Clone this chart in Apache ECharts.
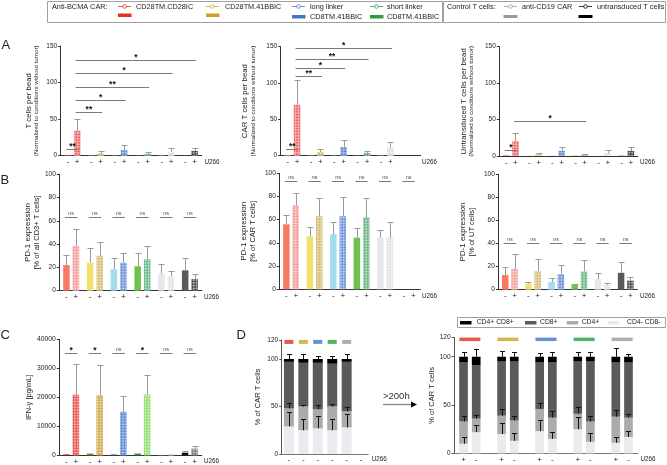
<!DOCTYPE html>
<html><head><meta charset="utf-8">
<script src="https://cdn.jsdelivr.net/npm/echarts@6/dist/echarts.min.js"></script>
<style>html,body{margin:0;padding:0;background:#fff}#c{width:667px;height:465px}</style>
</head><body><div id="c"></div>
<script>
// ================= DATA =================
const groupNames = ['CD28TM.CD28IC','CD28TM.41BBIC','long linker CD8TM.41BBIC','short linker CD8TM.41BBIC','anti-CD19 CAR','untransduced T cells'];
const pmLabels = ['-','+'];
const yTicksA = [0,50,100,150];
const yTicksB = [0,20,40,60,80,100];
const yTicksC = [0,10000,20000,30000,40000];
const yTicksD = [0,50,100];
const yMaxD = 120;

// A1: T cells per bead
const A1_minus = [0.8,0.4,0.4,0.4,0.4,0.4];
const A1_plus = [34,3,8,2.5,5.5,6.5];
const A1_plusErr = [50,6,14.5,4.5,10,10];
const A1_sig = [[0,'-',0,'+',9,'**'],[0,'+',1,'+',60,'**'],[0,'+',2,'+',76,'*'],[0,'+',3,'+',94,'**'],[0,'+',4,'+',113,'*'],[0,'+',5,'+',131,'*']];
// A2: CAR T cells per bead
const A2_minus = [1,0.4,0.4,0.4,0.4,null];
const A2_plus = [70,5,12,4,11,null];
const A2_plusErr = [104,9,21.5,6.5,18.5,null];
const A2_sig = [[0,'-',0,'+',9,'**'],[0,'+',1,'+',109,'**'],[0,'+',2,'+',120.5,'*'],[0,'+',3,'+',133.5,'**'],[0,'+',4,'+',148.5,'*']];
// A3: Untransduced T cells per bead
const A3_minus = [1,0.4,0.4,0.4,0.4,0.4];
const A3_plus = [20.5,2.5,7,2,4,7];
const A3_plusErr = [32,3.7,12,3,8,12];
const A3_sig = [[0,'-',0,'+',8,'*'],[0,'+',3,'+',47.5,'*']];
// B1: PD-1 % of all CD3+ T cells
const B1_minus = [22,24,18.5,21,15,17.5];
const B1_minusErr = [31,37,28,32,23,28];
const B1_plus = [38.5,30,24,27,12.5,10];
const B1_plusErr = [53,41.5,32.5,38.5,17,14];
const B1_sigY = 63;
// B2: PD-1 % of CAR T cells
const B2_minus = [56,45.5,47.5,44.5,44.5,null];
const B2_minusErr = [64,53.5,58,52.5,51,null];
const B2_plus = [72.5,63,63,62,44.5,null];
const B2_plusErr = [83,78.5,79.5,78.5,58,null];
const B2_sigY = 93.5;
// B3: PD-1 % of UT cells
const B3_minus = [12.7,5,6.7,4.6,9.2,14.6];
const B3_minusErr = [20,6.4,9.8,5.2,14.2,24.3];
const B3_plus = [18,16.2,13.3,15.7,4,7.8];
const B3_plusErr = [31,27,21,26,5.8,11.3];
const B3_sigY = 40.5;
// C: IFN-gamma pg/mL
const C_minus = [350,600,300,600,100,900];
const C_minusErr = [null,null,null,null,null,1500];
const C_plus = [20900,20700,15000,21000,500,2300];
const C_plusErr = [31400,31300,20600,27700,null,3200];
const C_sigText = ['*','*','ns','*','ns','ns'];
const C_sigY = 35200;
// D1: subsets before (U266 -)
const D1_labels = ['-','-','-','-','-','-'];
const D1_dn = [29,25,27,25,28,null];
const D1_cd4 = [19,25,20,25,17,null];
const D1_cd8 = [49,46,49,45,52,null];
const D1_dp = [3,4,4,5,3,null];
const D1_dnErr = [44,37,40,37,42,null];
const D1_cd4Err = [54,52,52,53,50,null];
const D1_dpErr = [105,105,103,103,105,null];
// D2: subsets after >200h
const D2_labels = ['+','-','+','-','+','-','+','-','+','-'];
const D2_dn = [10,22,20,13,23,15,25,12,11,17];
const D2_cd4 = [23,14,19,21,23,22,16,21,27,20];
const D2_cd8 = [61,55,56,61,48,57,54,62,56,57];
const D2_dp = [6,9,5,5,6,6,5,5,6,6];
const D2_dnErr = [17,29,31,21,35,22,38,21,17,23];
const D2_cd4Err = [39,40,46,39,52,44,48,39,45,41];
const D2_dpErr = [104.5,108,106,105,104,105,105,104.5,108.6,103];
const subsetNames = ['CD4+ CD8+','CD8+','CD4+','CD4- CD8-'];

// ================= STYLE =================
const FF = 'Liberation Sans';
const FONT = (s, b) => (b ? 'bold ' : '') + s + 'px "Liberation Sans", Arial, sans-serif';
const keyCol = ['#e0301e','#c9a227','#4275c8','#2b9e3b','#9a9a9a','#000000'];
const minusPal = ['#f87a65','#f2e26b','#a3dcee','#6fc34a','#e7e8eb','#595959'];
const minusPalC = ['#c0392b','#9a7b1c','#3b66b0','#2e9a3e','#bbbbbb','#111111'];
const plusPalA = ['#ee6a6a','#d6b55a','#5d8ad6','#58b36b','#dedfe2','#444444'];
const plusPalB = ['#f49c98','#d5bb72','#6b90da','#68b684','#e1e2e5','#484848'];
const plusPalC = ['#e9504c','#cfa845','#5a86d4','#8fdc6c','#dcdcdc','#777777'];
const subsetCol = ['#000000','#5a5a5a','#ababab','#e9ebee'];
const hatch = {symbol:'rect', symbolSize:1, color:'rgba(255,255,255,0.5)', dashArrayX:[[1.3,1.3],[0,1.3,1.3,0]], dashArrayY:[1.3,0], rotation:Math.PI/4};

const grids = [], xAxes = [], yAxes = [], series = [];
const slot5 = (g, s) => g*5 + (s === '+' ? 3 : 1);

function errSeries(gi, pts, color, cap) {
  return {type:'custom', xAxisIndex:gi, yAxisIndex:gi, z:4, silent:true, data:pts, encode:{x:0, y:[1,2]},
    renderItem:(p, api) => {
      const a = api.coord([api.value(0), api.value(1)]), b = api.coord([api.value(0), api.value(2)]);
      const x = Math.round(a[0]) + 0.5, yb = Math.round(b[1]) + 0.5;
      return {type:'group', children:[
        {type:'line', shape:{x1:x, y1:a[1], x2:x, y2:yb}, style:{stroke:color, lineWidth:1}},
        {type:'line', shape:{x1:x-cap, y1:yb, x2:x+cap, y2:yb}, style:{stroke:color, lineWidth:1}}]};
    }};
}
function sigSeries(gi, items) {
  return {type:'custom', xAxisIndex:gi, yAxisIndex:gi, z:5, silent:true,
    data: items.map(d => [d[0], d[1], d[2]]), encode:{x:[0,1], y:2},
    renderItem:(p, api) => {
      const t = items[p.dataIndex][3];
      const a = api.coord([api.value(0), api.value(2)]), b = api.coord([api.value(1), api.value(2)]);
      const y = Math.round(a[1]) + 0.5, ns = (t === 'ns');
      return {type:'group', children:[
        {type:'line', shape:{x1:a[0]-1.5, y1:y, x2:b[0]+1.5, y2:y}, style:{stroke:'#7a7a7a', lineWidth:1}},
        {type:'text', x:(a[0]+b[0])/2, y: y - (ns ? 4.5 : 2.5),
          style:{text:t, fill: ns ? '#555' : '#111', font: ns ? FONT(5.5) : FONT(8.5, true),
                 textAlign:'center', align:'center', textVerticalAlign:'middle', verticalAlign:'middle'}}]};
    }};
}
function yAxisCfg(gi, ticks, max, name, gap, rich, labelSize) {
  return {type:'value', gridIndex:gi, min:ticks[0], max: max, interval: ticks[1]-ticks[0],
    axisLine:{show:true, lineStyle:{color:'#333', width:1}}, axisTick:{show:true, length:2.5, lineStyle:{color:'#333'}},
    axisLabel:{fontSize:labelSize || 6.5, color:'#222', margin:3.5, fontFamily:FF, formatter:v => String(v)}, splitLine:{show:false},
    name:name, nameLocation:'middle', nameRotate:90, nameGap:gap,
    nameTextStyle:{color:'#222', fontFamily:FF, fontSize:7.5, rich:rich}};
}

function groupPanel(gi, box, o) {
  grids.push(Object.assign({outerBoundsMode:'none', containLabel:false}, box));
  const cats = Array(30).fill('');
  for (let g = 0; g < o.nLab; g++) { cats[slot5(g,'-')] = pmLabels[0]; cats[slot5(g,'+')] = pmLabels[1]; }
  xAxes.push({type:'category', gridIndex:gi, data:cats, axisLine:{lineStyle:{color:'#333', width:1}}, axisTick:{show:false},
    axisLabel:{interval:0, margin:2.5, fontSize:8, color:'#222', fontFamily:FF}});
  yAxes.push(yAxisCfg(gi, o.ticks, o.ticks[o.ticks.length-1], o.name, o.gap, o.rich, o.labelSize));
  const mk = (vals, side, pal) => { const a = Array(30).fill(null);
    vals.forEach((v, g) => { if (v != null) a[slot5(g, side)] = {value:v, itemStyle:{color:pal[g]}}; }); return a; };
  series.push({type:'bar', xAxisIndex:gi, yAxisIndex:gi, barWidth:6.5, barGap:'-100%', data:mk(o.minus,'-',o.minusPal), silent:true});
  series.push({type:'bar', xAxisIndex:gi, yAxisIndex:gi, barWidth:6.5, barGap:'-100%', data:mk(o.plus,'+',o.plusPal),
    itemStyle:{decal:hatch}, silent:true});
  const pts = [];
  [['-', o.minus, o.minusErr], ['+', o.plus, o.plusErr]].forEach(([s, v, e]) => {
    if (!e) return; e.forEach((t, g) => { if (t != null && v[g] != null) pts.push([slot5(g, s), v[g], t]); }); });
  series.push(errSeries(gi, pts, '#9a9a9a', 3));
  series.push(sigSeries(gi, o.sig.map(d => [slot5(d[0], d[1]), slot5(d[2], d[3]), d[4], d[5]])));
}

const richA = {a:{fontSize:7.8, lineHeight:8.5, fontFamily:FF, color:'#222'}, b:{fontSize:6.2, lineHeight:7.5, fontFamily:FF, color:'#222'}};
const richB = {a:{fontSize:8, lineHeight:9, fontFamily:FF, color:'#222'}, b:{fontSize:7.5, lineHeight:9, fontFamily:FF, color:'#222'}};
const normLine = '(Normalized to conditions without tumor)';
const pairSig = (y, texts) => [0,1,2,3,4,5].map(g => [g,'-',g,'+',y, texts ? texts[g] : 'ns']);

groupPanel(0, {left:60.7, top:46, width:141, height:109.7}, {nLab:6, ticks:yTicksA, minus:A1_minus, plus:A1_plus, plusErr:A1_plusErr,
  minusPal:minusPal, plusPal:plusPalA, sig:A1_sig, name:'{a|T cells per bead}\n{b|' + normLine + '}', gap:20.3, rich:richA});
groupPanel(1, {left:280.7, top:46.5, width:140, height:109.2}, {nLab:5, ticks:yTicksA, minus:A2_minus, plus:A2_plus, plusErr:A2_plusErr,
  minusPal:minusPal, plusPal:plusPalA, sig:A2_sig, name:'{a|CAR T cells per bead}\n{b|' + normLine + '}', gap:23.7, rich:richA});
groupPanel(2, {left:499.3, top:46.7, width:138.5, height:109.3}, {nLab:6, ticks:yTicksA, minus:A3_minus, plus:A3_plus, plusErr:A3_plusErr,
  minusPal:minusPal, plusPal:plusPalA, sig:A3_sig, name:'{a|Untransduced T cells per bead}\n{b|' + normLine + '}', gap:24, rich:richA});
groupPanel(3, {left:59.3, top:174.3, width:142.5, height:116.4}, {nLab:6, ticks:yTicksB, minus:B1_minus, minusErr:B1_minusErr, plus:B1_plus, plusErr:B1_plusErr,
  minusPal:minusPal, plusPal:plusPalB, sig:pairSig(B1_sigY), name:'{a|PD-1 expression}\n{b|[% of all CD3+ T cells]}', gap:16.5, rich:richB});
groupPanel(4, {left:279.3, top:173.3, width:141, height:116}, {nLab:6, ticks:yTicksB, minus:B2_minus, minusErr:B2_minusErr, plus:B2_plus, plusErr:B2_plusErr,
  minusPal:minusPal, plusPal:plusPalB, sig:pairSig(B2_sigY), name:'{a|PD-1 expression}\n{b|[% of CAR T cells]}', gap:21.8, rich:richB});
groupPanel(5, {left:498.3, top:174.3, width:139, height:115.4}, {nLab:6, ticks:yTicksB, minus:B3_minus, minusErr:B3_minusErr, plus:B3_plus, plusErr:B3_plusErr,
  minusPal:minusPal, plusPal:plusPalB, sig:pairSig(B3_sigY), name:'{a|PD-1 expression}\n{b|[% of UT cells]}', gap:21.8, rich:richB});
groupPanel(6, {left:59.3, top:339.3, width:142.4, height:116}, {nLab:6, ticks:yTicksC, minus:C_minus, minusErr:C_minusErr, plus:C_plus, plusErr:C_plusErr,
  minusPal:minusPalC, plusPal:plusPalC, sig:pairSig(C_sigY, C_sigText), name:'IFN-γ [pg/mL]', gap:22, rich:{}, labelSize:6.8});

// ---- D panels (stacked) ----
function stackPanel(gi, box, o) {
  grids.push(Object.assign({outerBoundsMode:'none', containLabel:false}, box));
  const n = o.nSlots, cats = Array(n).fill('');
  o.labels.forEach((l, i) => { cats[o.slot(i)] = l; });
  xAxes.push({type:'category', gridIndex:gi, data:cats, axisLine:{lineStyle:{color:'#777', width:1}}, axisTick:{show:false},
    axisLabel:{interval:0, margin:o.margin, fontSize:8, color:'#222', fontFamily:FF}});
  const ya = yAxisCfg(gi, yTicksD, yMaxD, '% of CAR T cells', o.gap, {});
  ya.axisLine.lineStyle.color = '#555'; ya.axisTick.lineStyle.color = '#555';
  yAxes.push(ya);
  const layers = [o.dn, o.cd4, o.cd8, o.dp], cols = [subsetCol[3], subsetCol[2], subsetCol[1], subsetCol[0]];
  layers.forEach((arr, k) => {
    const d = Array(n).fill(null);
    arr.forEach((v, i) => { if (v != null) d[o.slot(i)] = v; });
    series.push({type:'bar', xAxisIndex:gi, yAxisIndex:gi, stack:'s' + gi, barWidth:o.barW, data:d, itemStyle:{color:cols[k]}, silent:true});
  });
  const pts = [];
  o.dn.forEach((v, i) => { if (v == null) return;
    const c1 = v, c2 = v + o.cd4[i], c4 = v + o.cd4[i] + o.cd8[i] + o.dp[i];
    pts.push([o.slot(i), c1, o.dnErr[i]], [o.slot(i), c2, o.cd4Err[i]], [o.slot(i), c4, o.dpErr[i]]); });
  series.push(errSeries(gi, pts, '#111', 2.5));
  series.push({type:'scatter', xAxisIndex:gi, yAxisIndex:gi, symbol:'rect', symbolSize:o.keySize, silent:true, z:3,
    data:o.keys.map((k, i) => ({value:[o.keySlot(i), 118], itemStyle:{color:keyCol[k]}}))});
}
stackPanel(7, {left:281.7, top:340, width:86.6, height:114}, {nSlots:6, slot:i => i, labels:D1_labels, margin:1.5, gap:19.7, barW:10,
  dn:D1_dn, cd4:D1_cd4, cd8:D1_cd8, dp:D1_dp, dnErr:D1_dnErr, cd4Err:D1_cd4Err, dpErr:D1_dpErr,
  keys:[0,1,2,3,4], keySlot:i => i, keySize:[9,4]});
stackPanel(8, {left:454, top:337.4, width:184, height:116}, {nSlots:29, slot:i => 1 + 6*Math.floor(i/2) + 2*(i%2), labels:D2_labels, margin:2, gap:18.5, barW:8.7,
  dn:D2_dn, cd4:D2_cd4, cd8:D2_cd8, dp:D2_dp, dnErr:D2_dnErr, cd4Err:D2_cd4Err, dpErr:D2_dpErr,
  keys:[0,1,2,3,4], keySlot:i => 2 + 6*i, keySize:[21,3.5]});

// ---- graphic annotations ----
const G = [];
const txt = (x, y, t, size, opt) => G.push(Object.assign({type:'text', x:x, y:y, silent:true,
  style:Object.assign({text:t, fill:'#222', font:FONT(size), textAlign:'left', align:'left', textVerticalAlign:'middle', verticalAlign:'middle'}, opt || {})}));
const rect = (x, y, w, h, fill, stroke) => G.push({type:'rect', silent:true, shape:{x:x, y:y, width:w, height:h},
  style: stroke ? {fill:'none', stroke:stroke, lineWidth:1} : {fill:fill}});
const marker = (x, y, col) => { G.push({type:'line', silent:true, shape:{x1:x, y1:y, x2:x+13, y2:y}, style:{stroke:col, lineWidth:0.8}});
  G.push({type:'circle', silent:true, shape:{cx:x+6.5, cy:y, r:1.8}, style:{fill:'#fff', stroke:col, lineWidth:0.8}}); };
// top legend
rect(47.5, 1.5, 395, 21, null, '#a0a0a0');
rect(443.5, 1.5, 222, 21, null, '#a0a0a0');
txt(52, 6.5, 'Anti-BCMA CAR:', 7.3);
const legX = [[118, 136, 13.5], [206, 225, 13.5], [292, 310, 15], [370, 387, 15]];
legX.forEach(([mx, tx, sy], k) => { marker(mx, 6.5, keyCol[k]); rect(mx, sy, 13.5, 3.5, keyCol[k]);
  const nm = groupNames[k];
  if (nm.indexOf('linker') >= 0) { const p = nm.split(' linker '); txt(tx, 6.5, p[0] + ' linker', 7.3); txt(tx, 16.5, p[1], 7.3); }
  else txt(tx, 6.5, nm, 7.3); });
txt(447, 6.5, 'Control T cells:', 7.3);
marker(504, 6.5, keyCol[4]); rect(503.5, 15, 14, 3, keyCol[4]); txt(522, 6.5, groupNames[4], 7.3);
marker(579, 6.5, keyCol[5]); rect(578.5, 15, 14, 3, keyCol[5]); txt(597, 6.5, groupNames[5], 7.3);
// panel letters
txt(1.5, 45, 'A', 13); txt(0.5, 180, 'B', 13); txt(0.5, 335, 'C', 13); txt(236.5, 335, 'D', 13);
// U266 labels
[[204.5,162],[422,162],[640,162],[204,297],[422,296.7],[640,296],[204,461.3],[371.7,459.3],[640.5,459.3]].forEach(p => txt(p[0], p[1], 'U266', 6.3));
// D legend
rect(457.5, 317.5, 208, 10, null, '#a0a0a0');
[[460, 476.7], [525, 540], [566.7, 581.7], [608, 627]].forEach(([sx, tx], k) => { rect(sx, 321, 11.5, 3.5, subsetCol[k]); txt(tx, 322.5, subsetNames[k], 6.8); });
// arrow
txt(383, 396.5, '>200h', 9.5, {fill:'#333'});
G.push({type:'line', silent:true, shape:{x1:383, y1:404.5, x2:412, y2:404.5}, style:{stroke:'#888', lineWidth:1.3}});
G.push({type:'polygon', silent:true, shape:{points:[[411,401.5],[417,404.5],[411,407.5]]}, style:{fill:'#000'}});

const chart = echarts.init(document.getElementById('c'), null, {renderer:'canvas', width:667, height:465});
chart.setOption({animation:false, backgroundColor:'#fff', textStyle:{fontFamily:FF},
  grid:grids, xAxis:xAxes, yAxis:yAxes, series:series, graphic:G});
</script></body></html>
